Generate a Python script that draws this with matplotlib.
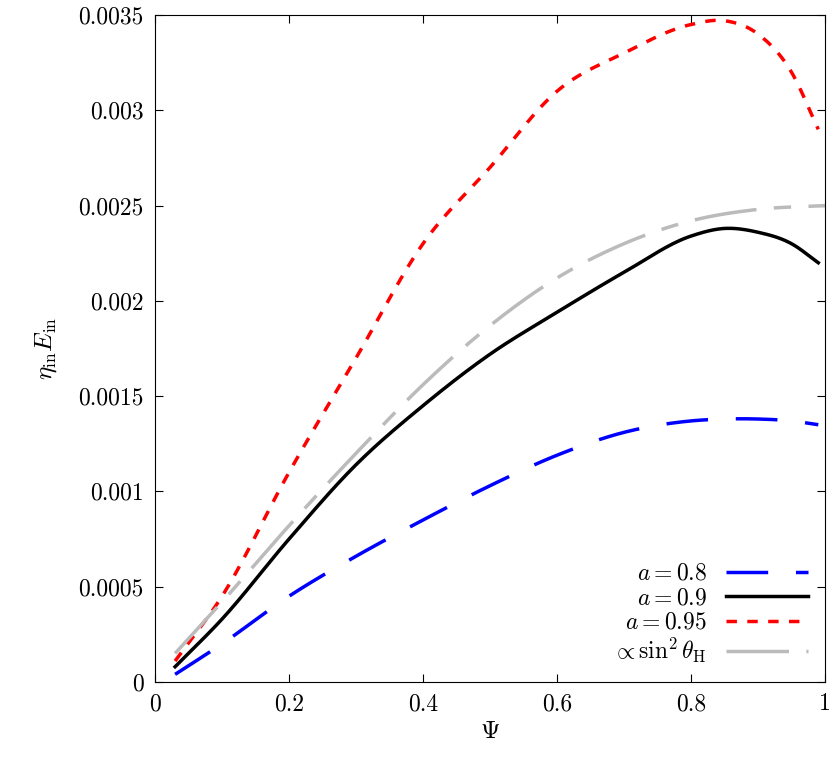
import matplotlib
matplotlib.use("Agg")
import matplotlib.pyplot as plt
import numpy as np

plt.rcParams["font.family"] = "serif"
plt.rcParams["font.serif"] = ["cmr10"]
plt.rcParams["mathtext.fontset"] = "cm"
plt.rcParams["axes.unicode_minus"] = False

psi = [0.03, 0.1, 0.2, 0.3, 0.4, 0.5, 0.6, 0.7, 0.8, 0.85, 0.9, 0.95, 0.99]
a08 = [0.00004, 0.0002, 0.00045, 0.00066, 0.00085, 0.00103, 0.00119, 0.00131, 0.00137, 0.00138, 0.00138, 0.00137, 0.00135]
a09 = [0.00008, 0.00033, 0.00075, 0.00114, 0.00145, 0.00172, 0.00194, 0.00215, 0.00234, 0.00238, 0.00236, 0.0023, 0.0022]
a095 = [0.00011, 0.00045, 0.0011, 0.0017, 0.0023, 0.0027, 0.0031, 0.0033, 0.00345, 0.00347, 0.0034, 0.0032, 0.0029]
psi_s = [0.03, 0.1, 0.2, 0.3, 0.4, 0.5, 0.6, 0.7, 0.8, 0.9, 1.0]
sin2 = [0.00015, 0.00042, 0.00082, 0.0012, 0.00156, 0.00187, 0.00212, 0.0023, 0.00242, 0.00248, 0.0025]

def smooth(x, y):
    # Catmull-Rom style cubic Hermite through the read points
    x = np.asarray(x); y = np.asarray(y)
    m = np.gradient(y, x)
    xs, ys = [], []
    for i in range(len(x) - 1):
        h = x[i+1] - x[i]
        t = np.linspace(0, 1, 30, endpoint=False)
        h00 = 2*t**3 - 3*t**2 + 1; h10 = t**3 - 2*t**2 + t
        h01 = -2*t**3 + 3*t**2; h11 = t**3 - t**2
        xs.append(x[i] + t*h)
        ys.append(h00*y[i] + h10*h*m[i] + h01*y[i+1] + h11*h*m[i+1])
    xs.append([x[-1]]); ys.append([y[-1]])
    return np.concatenate(xs), np.concatenate(ys)

fig = plt.figure(figsize=(8.3, 7.61), dpi=100)
ax = fig.add_axes([155/830, 1-682/761, 670/830, 667/761])

ax.plot(*smooth(psi, a08), color="#0000ff", lw=2.5, dashes=(12, 8), label=r"$a = 0.8$")
ax.plot(*smooth(psi, a09), color="black", lw=2.5, label=r"$a = 0.9$")
ax.plot(*smooth(psi, a095), color="#ff0000", lw=2.5, dashes=(3, 3), label=r"$a = 0.95$")
ax.plot(*smooth(psi_s, sin2), color="#bbbbbb", lw=2.5, dashes=(18, 5, 5, 5), label=r"$\propto \sin^2\theta_{\rm H}$")

ax.set_xlim(0, 1)
ax.set_ylim(0, 0.0035)
xt = [0, 0.2, 0.4, 0.6, 0.8, 1]
yt = [0, 0.0005, 0.001, 0.0015, 0.002, 0.0025, 0.003, 0.0035]
ax.set_xticks(xt)
ax.set_xticklabels(["0", "0.2", "0.4", "0.6", "0.8", "1"])
ax.set_yticks(yt)
ax.set_yticklabels(["0", "0.0005", "0.001", "0.0015", "0.002", "0.0025", "0.003", "0.0035"])
ax.tick_params(direction="in", top=True, right=True, labelsize=17, length=6, pad=8)
ax.set_xlabel(r"$\Psi$", fontsize=18)
ax.set_ylabel(r"$\eta_{\rm in}E_{\rm in}$", fontsize=18, labelpad=14)
ax.legend(loc="lower right", frameon=False, markerfirst=False, fontsize=17,
          handlelength=3.5, labelspacing=0.1, borderaxespad=0.3)

fig.savefig("out.png", dpi=100)
